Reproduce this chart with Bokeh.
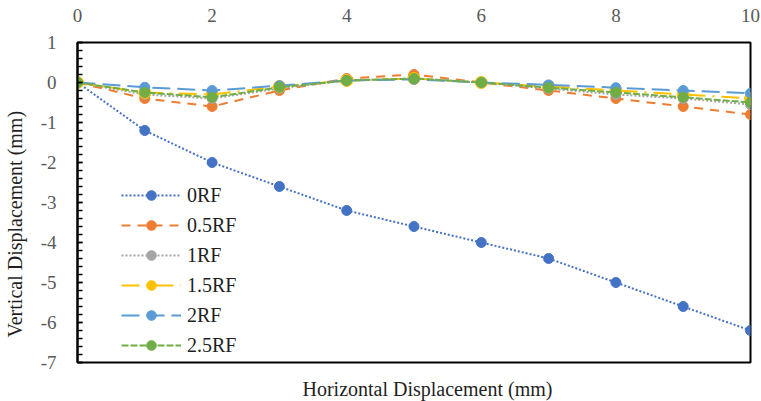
import math
from bokeh.plotting import figure
from bokeh.models import (SingleIntervalTicker, Legend, LegendItem, Title, Range1d,
                          CustomJSTickFormatter, LinearAxis, FixedTicker)
from bokeh.embed import file_html
from bokeh.resources import INLINE

# ---- data ----
x_disp = [0, 1, 2, 3, 4, 5, 6, 7, 8, 9, 10]
rf_0 = [0, -1.2, -2.0, -2.6, -3.2, -3.6, -4.0, -4.4, -5.0, -5.6, -6.2]
rf_05 = [0, -0.4, -0.6, -0.2, 0.1, 0.2, 0, -0.2, -0.4, -0.6, -0.8]
rf_1 = [0, -0.3, -0.4, -0.15, 0.05, 0.1, 0, -0.15, -0.3, -0.4, -0.55]
rf_15 = [0, -0.25, -0.3, -0.1, 0.05, 0.1, 0, -0.1, -0.2, -0.3, -0.4]
rf_2 = [0, -0.12, -0.2, -0.08, 0.05, 0.08, 0, -0.06, -0.13, -0.2, -0.27]
rf_25 = [0, -0.25, -0.37, -0.12, 0.05, 0.1, 0, -0.13, -0.25, -0.37, -0.5]
series_names = ["0RF", "0.5RF", "1RF", "1.5RF", "2RF", "2.5RF"]
series_values = [rf_0, rf_05, rf_1, rf_15, rf_2, rf_25]
x_title = "Horizontal Displacement (mm)"
y_title = "Vertical Displacement (mm)"

colors = ["#4472C4", "#ED7D31", "#A5A5A5", "#FFC000", "#5B9BD5", "#70AD47"]
dashes = ["2 2", "9 7", "2 2", "18 7 2 7", "18 7", "7 2"]
msizes = [10, 10, 10, 12, 10, 10]

FONT = "Liberation Serif"

p = figure(width=761, height=401, output_backend="svg", toolbar_location=None,
           x_range=Range1d(0, 10), y_range=Range1d(-7, 1), x_axis_location="above",
           min_border_left=77, min_border_right=11, min_border_top=42, min_border_bottom=39)
p.xgrid.visible = False
p.ygrid.visible = False
p.outline_line_color = "black"
p.outline_line_width = 2
p.outline_line_alpha = 1.0
p.background_fill_color = "white"
p.border_fill_color = "white"

xa = p.xaxis[0]
xa.ticker = SingleIntervalTicker(interval=2, num_minor_ticks=0)
xa.formatter = CustomJSTickFormatter(code="return tick.toFixed(0);")
xa.axis_line_color = None
xa.major_tick_line_color = None
xa.minor_tick_line_color = None
xa.major_label_text_font = FONT
xa.major_label_text_font_size = "19px"
xa.major_label_text_color = "#595959"
xa.major_label_standoff = 15

ya = p.yaxis[0]
ya.ticker = SingleIntervalTicker(interval=1, num_minor_ticks=5)
ya.formatter = CustomJSTickFormatter(code="return tick.toFixed(0);")
ya.axis_line_color = "black"
ya.axis_line_width = 2
ya.major_tick_in = 5
ya.major_tick_out = 0
ya.minor_tick_in = 5
ya.minor_tick_out = 0
ya.major_tick_line_color = "black"
ya.major_tick_line_width = 1.5
ya.minor_tick_line_color = "black"
ya.minor_tick_line_width = 1.5
ya.major_label_text_font = FONT
ya.major_label_text_font_size = "19px"
ya.major_label_text_color = "#595959"
ya.major_label_standoff = 21
# tiny invisible axis label used only as a spacer before the title panel
ya.axis_label = " "
ya.axis_label_text_font_size = "1px"
ya.axis_label_standoff = 6
ya.axis_label_text_alpha = 0

# invisible spacer axis below the frame, so the x title sits lower
spacer = LinearAxis(ticker=FixedTicker(ticks=[]),
                    axis_line_color=None, major_tick_line_color=None,
                    minor_tick_line_color=None, major_tick_out=0, major_tick_in=0,
                    axis_label=" ", axis_label_text_font_size="1px",
                    axis_label_text_alpha=0, axis_label_standoff=11)
p.add_layout(spacer, "below")

items = []
for name, vals, c, d, ms in zip(series_names, series_values, colors, dashes, msizes):
    lr = p.line(x_disp, vals, line_color=c, line_width=2, line_dash=d)
    sr = p.scatter(x_disp, vals, size=ms, marker="circle", fill_color=c, line_color=c, line_width=1)
    items.append(LegendItem(label=name, renderers=[lr, sr]))

legend = Legend(items=items, location=(44, 5), glyph_width=60, glyph_height=24,
                spacing=6, padding=0, margin=0, label_standoff=6,
                label_text_font=FONT, label_text_font_size="20px", label_text_color="#1f1f1f",
                border_line_color=None, background_fill_alpha=0)
p.add_layout(legend, "center")

p.add_layout(Title(text=y_title, align="left", offset=25, vertical_align="top", standoff=0,
                   text_font=FONT, text_font_size="20px", text_font_style="normal",
                   text_color="#1f1f1f"), "left")
p.add_layout(Title(text=x_title, align="left", offset=225, vertical_align="top", standoff=0,
                   text_font=FONT, text_font_size="20px", text_font_style="normal",
                   text_color="#1f1f1f"), "below")

open("out.html", "w").write(file_html(p, INLINE))
